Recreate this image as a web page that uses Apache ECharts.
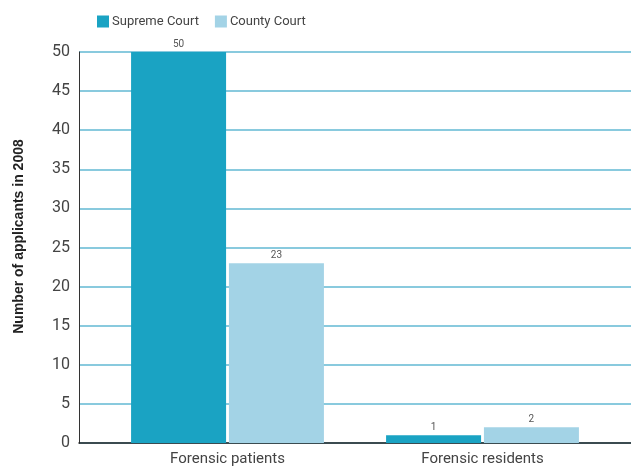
<!DOCTYPE html>
<html><head><meta charset="utf-8">
<script src="https://cdn.jsdelivr.net/npm/echarts@6/dist/echarts.min.js"></script>
<style>html,body{margin:0;padding:0;background:#fff}#c{width:631px;height:470px}</style>
</head><body><div id="c"></div>
<script>
const categories = ['Forensic patients', 'Forensic residents'];
const supremeCourt = [50, 1];
const countyCourt = [23, 2];
const seriesNames = ['Supreme Court', 'County Court'];
const yTicks = {min: 0, max: 50, interval: 5};

const chart = echarts.init(document.getElementById('c'));
const font = 'Roboto, "Liberation Sans", sans-serif';
chart.setOption({
  animation: false,
  legend: {
    left: 92, top: 10, itemWidth: 12, itemHeight: 12, itemGap: 16,
    icon: 'rect',
    textStyle: {fontFamily: font, fontSize: 13, color: '#444', padding: [0,0,0,-2]},
    data: seriesNames
  },
  grid: [
    {left: 79, right: 0, top: 52, bottom: 27},
    {left: 100, right: 21, top: 52, bottom: 27}
  ],
  xAxis: [
    {gridIndex: 0, type: 'value', min: 0, max: 1, axisLine: {show: true, onZero: false, lineStyle: {color: '#222', width: 1.5}}, axisTick: {show: false}, axisLabel: {show: false}, splitLine: {show: false}},
    {gridIndex: 1, type: 'category', data: categories, axisLine: {show: false}, axisTick: {show: false},
     axisLabel: {fontFamily: font, fontSize: 15, color: '#444', margin: 9}}
  ],
  yAxis: [
    {gridIndex: 0, type: 'value', min: yTicks.min, max: yTicks.max, interval: yTicks.interval,
     axisLine: {show: true, lineStyle: {color: '#333', width: 1}}, axisTick: {show: false},
     axisLabel: {fontFamily: font, fontSize: 16, color: '#444', margin: 9},
     splitLine: {lineStyle: {color: '#62b9d3', width: 1.5}},
     name: 'Number of applicants in 2008', nameLocation: 'middle', nameGap: 53,
     nameTextStyle: {fontFamily: '"Liberation Sans", Arial, sans-serif', fontSize: 14, fontWeight: 'bold', color: '#222', padding: [0, 0, 0, 22]}},
    {gridIndex: 1, type: 'value', min: yTicks.min, max: yTicks.max, interval: yTicks.interval, show: false}
  ],
  series: [
    {name: seriesNames[0], type: 'bar', xAxisIndex: 1, yAxisIndex: 1, data: supremeCourt,
     barWidth: 95, barGap: '3%', itemStyle: {color: '#1aa3c3'},
     label: {show: true, position: 'top', distance: 3, fontFamily: font, fontSize: 10, color: '#555'}},
    {name: seriesNames[1], type: 'bar', xAxisIndex: 1, yAxisIndex: 1, data: countyCourt,
     barWidth: 95, barGap: '3%', itemStyle: {color: '#a3d3e6'},
     label: {show: true, position: 'top', distance: 3, fontFamily: font, fontSize: 10, color: '#555'}}
  ]
});
</script></body></html>
